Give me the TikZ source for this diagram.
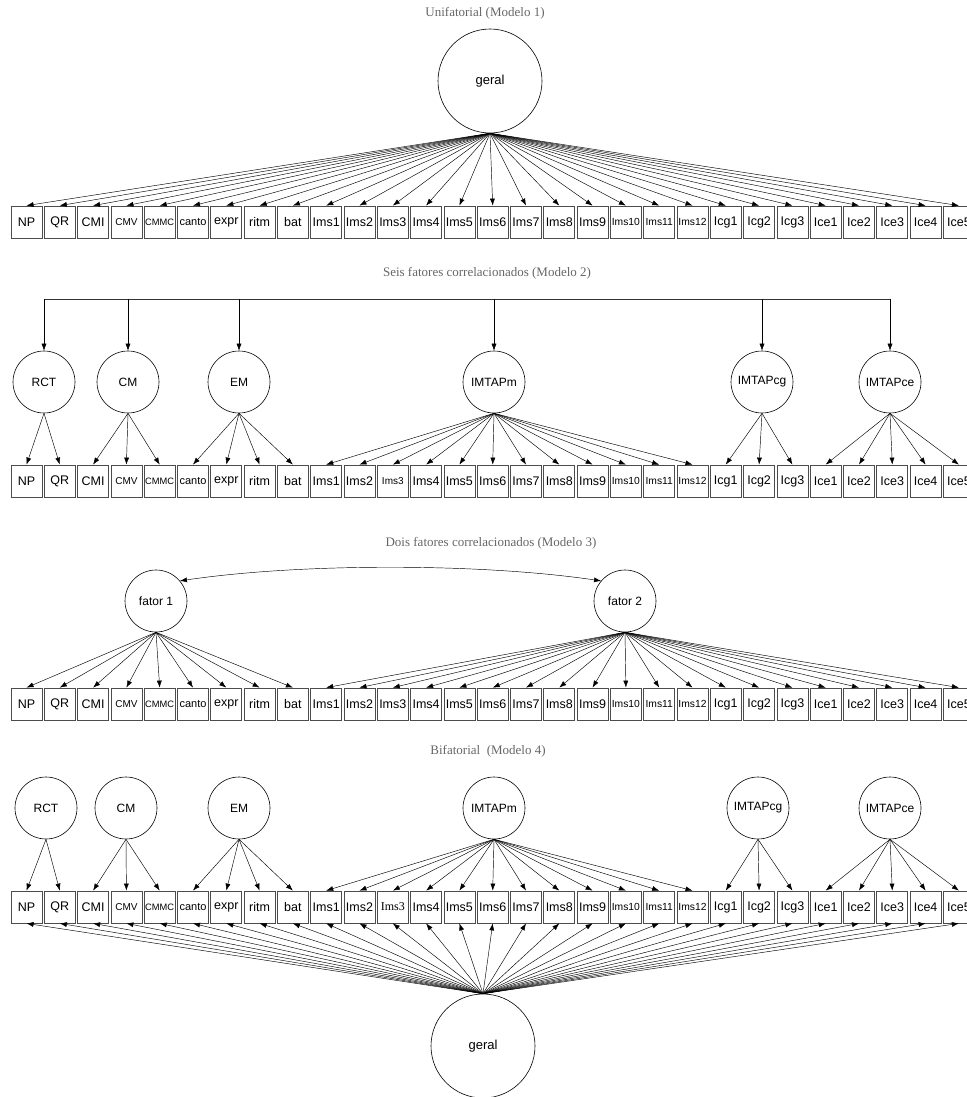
\documentclass[tikz,border=0pt]{standalone}
\usepackage{fontspec}
\setmainfont{Liberation Sans}
\newfontfamily\serifttl{Liberation Serif}
\usetikzlibrary{arrows.meta}
\begin{document}
\begin{tikzpicture}[x=1pt,y=-1pt,
 obs/.style={draw=black!70, line width=0.8pt, minimum width=31pt, minimum height=32pt, inner sep=0pt},
 lat/.style={draw, circle, line width=0.6pt, minimum size=62pt, inner sep=0pt, font=\fontsize{12}{14}\selectfont},
 big/.style={lat, minimum size=104pt, font=\fontsize{13}{15}\selectfont},
 ttl/.style={font=\serifttl\fontsize{13}{15}\selectfont, text=black!60},
 ld/.style={-{Latex[length=7pt,width=5pt]}, line width=0.45pt},
 sp2-11/.style={font=\fontsize{10}{12}\selectfont},
 sp4-11/.style={font=\serifttl\fontsize{12}{14}\selectfont},
]
\useasboundingbox (0,0) rectangle (966,1097);

% titles
\node[ttl] (t1) at (485,13) {Unifatorial (Modelo 1)};
\node[ttl] (t2) at (487,273) {Seis fatores correlacionados (Modelo 2)};
\node[ttl] (t3) at (491,543) {Dois fatores correlacionados (Modelo 3)};
\node[ttl] (t4) at (488,751) {Bifatorial\ \ (Modelo 4)};

% observed rows
\foreach \r/\yc in {1/222,2/481,3/704,4/907}{
  \foreach \lab/\fs [count=\i from 0] in {NP/12.5,QR/12.5,CMI/12.5,CMV/10,CMMC/9.3,canto/11,expr/12.5,ritm/12.5,bat/12.5,
     Ims1/12.5,Ims2/12.5,Ims3/12.5,Ims4/12.5,Ims5/12.5,Ims6/12.5,Ims7/12.5,Ims8/12.5,Ims9/12.5,Ims10/10.3,Ims11/10.3,Ims12/10.3,
     Icg1/12.5,Icg2/12.5,Icg3/12.5,Ice1/12.5,Ice2/12.5,Ice3/12.5,Ice4/12.5,Ice5/12.5}{
    \node[obs, font=\fontsize{\fs}{\fs}\selectfont, sp\r-\i/.try] (r\r b\i) at (26.5+33.3*\i,\yc) {\lab};
  }
}

% Model 1
\node[big] (g1) at (490,81) {geral};
\foreach \i in {0,...,28}{ \draw[ld] (g1.south) -- (r1b\i.north); }

% Model 2
\node[lat] (RCT2) at (44,382) {RCT};
\node[lat] (CM2) at (128,382) {CM};
\node[lat] (EM2) at (239,382) {EM};
\node[lat] (M2) at (494,382) {IMTAPm};
\node[lat] (CG2) at (762,382) {IMTAPcg};
\node[lat] (CE2) at (890,382) {IMTAPce};
\coordinate (busy) at (0,299);
\draw[line width=0.7pt, black!80] (RCT2 |- busy) -- (CE2 |- busy);
\foreach \n in {RCT2,CM2,EM2,M2,CG2,CE2}{ \draw[ld] (\n |- busy) -- (\n.north); }
\foreach \n/\a/\b in {RCT2/0/1,CM2/2/4,EM2/5/8,M2/9/20,CG2/21/23,CE2/24/28}{
  \foreach \i in {\a,...,\b}{ \draw[ld] (\n.south) -- (r2b\i.north); }
}

% Model 3
\node[lat] (f1) at (156,601) {fator 1};
\node[lat] (f2) at (625,601) {fator 2};
\draw[{Latex[length=7pt,width=5pt]}-{Latex[length=7pt,width=5pt]}, line width=0.45pt]
  (f1.40) .. controls (300,563) and (480,563) .. (f2.140);
\foreach \i in {0,...,8}{ \draw[ld] (f1.south) -- (r3b\i.north); }
\foreach \i in {9,...,28}{ \draw[ld] (f2.south) -- (r3b\i.north); }

% Model 4
\node[lat] (RCT4) at (46,808) {RCT};
\node[lat] (CM4) at (126,808) {CM};
\node[lat] (EM4) at (239,808) {EM};
\node[lat] (M4) at (494,808) {IMTAPm};
\node[lat] (CG4) at (758,808) {IMTAPcg};
\node[lat] (CE4) at (890,808) {IMTAPce};
\foreach \n/\a/\b in {RCT4/0/1,CM4/2/4,EM4/5/8,M4/9/20,CG4/21/23,CE4/24/28}{
  \foreach \i in {\a,...,\b}{ \draw[ld] (\n.south) -- (r4b\i.north); }
}
\node[big] (g4) at (483,1046) {geral};
\foreach \i in {0,...,28}{ \draw[ld] (g4.north) -- (r4b\i.south); }
\end{tikzpicture}
\end{document}
